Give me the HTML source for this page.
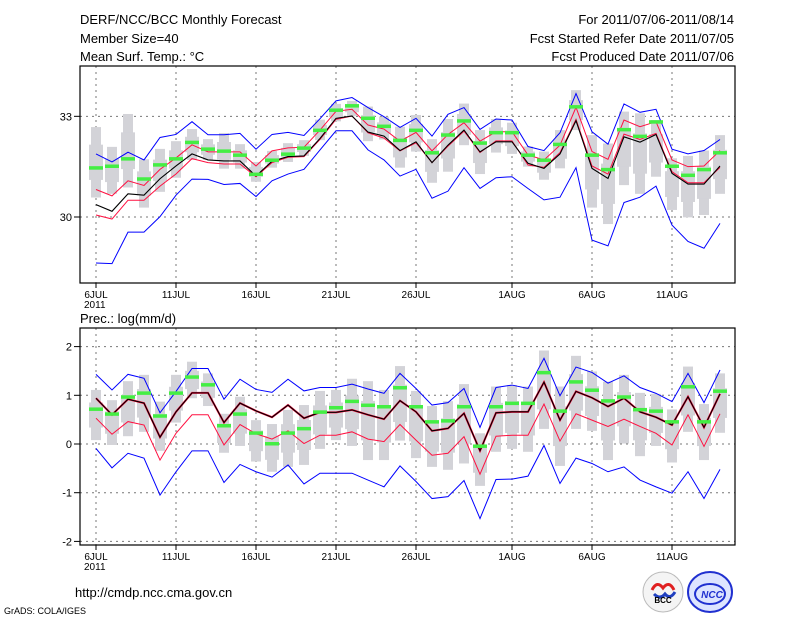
<!DOCTYPE html>
<html><head><meta charset="utf-8"><style>
body{margin:0;background:#fff;}
svg text{font-family:"Liberation Sans",sans-serif;}
</style></head><body>
<svg id="c" width="800" height="618" xmlns="http://www.w3.org/2000/svg">
<g font-size="13" fill="#000">
<text x="80" y="24">DERF/NCC/BCC Monthly Forecast</text>
<text x="80" y="43">Member Size=40</text>
<text x="80" y="61">Mean Surf. Temp.: °C</text>
<text x="734" y="24" text-anchor="end">For 2011/07/06-2011/08/14</text>
<text x="734" y="43" text-anchor="end">Fcst Started Refer Date 2011/07/05</text>
<text x="734" y="61" text-anchor="end">Fcst Produced Date 2011/07/06</text>
<text x="80" y="323">Prec.: log(mm/d)</text>
</g>
<g id="top"></g>
<g id="bot"></g>
<text x="75" y="597" font-size="13">http://cmdp.ncc.cma.gov.cn</text>
<text x="4" y="614" font-size="9">GrADS: COLA/IGES</text>
<g>
<circle cx="663" cy="592" r="20" fill="#f4f4f4" stroke="#bbb"/>
<path d="M652 590 q5 -10 11 -2 q6 -8 11 2" fill="none" stroke="#e02020" stroke-width="3"/>
<path d="M654 594 q6 6 11 0 q5 6 10 -2" fill="none" stroke="#2040c0" stroke-width="3"/>
<text x="663" y="603" font-size="8" font-weight="bold" text-anchor="middle">BCC</text>
</g>
<g>
<ellipse cx="710" cy="592" rx="22" ry="20" fill="#dde4ff" stroke="#2030d0" stroke-width="2"/>
<ellipse cx="710" cy="594" rx="15" ry="10" fill="none" stroke="#2030d0" stroke-width="2"/>
<text x="712" y="598" font-size="10" font-weight="bold" font-style="italic" fill="#2030d0" text-anchor="middle">NCC</text>
</g>
</svg>
<script>
const days = ["6JUL","","","","","11JUL","","","","","16JUL","","","","","21JUL","","","","","26JUL","","","","","","1AUG","","","","","6AUG","","","","","11AUG","","",""];
const tBlueHi=[31.88,31.64,31.93,31.70,32.37,32.46,32.84,32.45,32.45,32.49,32.02,32.46,32.52,32.43,32.93,33.46,33.56,33.26,32.99,32.67,32.94,32.41,33.06,33.26,32.61,32.92,32.89,32.10,31.98,32.51,33.68,32.54,32.17,33.37,33.12,33.21,32.02,31.88,31.98,32.31];
const tRedHi=[30.82,30.63,31.08,30.94,31.42,31.76,32.15,31.94,31.94,31.94,31.52,31.97,32.06,32.08,32.59,33.15,33.21,32.74,32.62,32.26,32.52,31.97,32.46,32.81,32.26,32.54,32.54,31.85,31.70,32.14,33.27,31.95,31.72,32.89,32.69,32.84,31.70,31.50,31.52,31.98];
const tMean=[30.37,30.17,30.69,30.65,31.14,31.52,31.88,31.70,31.67,31.67,31.22,31.66,31.80,31.82,32.34,32.94,33.01,32.53,32.41,31.98,32.24,31.62,32.14,32.59,31.94,32.24,32.24,31.60,31.45,31.88,32.87,31.45,31.15,32.39,32.23,32.46,31.30,30.98,30.98,31.52];
const tRedLo=[30.06,29.94,30.50,30.50,30.92,31.28,31.74,31.62,31.58,31.58,31.20,31.62,31.78,31.80,32.31,32.91,33.01,32.51,32.35,31.97,32.21,31.62,32.11,32.56,31.92,32.27,32.27,31.55,31.48,31.92,32.91,31.52,31.28,32.47,32.31,32.49,31.35,31.02,31.02,31.48];
const tBlueLo=[28.63,28.61,29.55,29.55,30.01,30.65,31.13,31.12,30.97,31.00,30.61,31.08,31.28,31.42,32.00,32.57,32.57,32.00,31.70,31.22,31.42,30.56,30.77,31.47,30.85,31.17,31.20,30.85,30.51,30.59,31.47,29.31,29.14,30.43,30.59,30.92,29.76,29.27,29.07,29.81];
const tObs=[31.47,31.52,31.74,31.14,31.56,31.74,32.23,32.03,31.97,31.85,31.28,31.70,31.88,32.06,32.59,33.19,33.32,32.95,32.71,32.29,32.59,31.92,32.45,32.87,32.21,32.52,32.52,31.85,31.70,32.17,33.29,31.85,31.42,32.61,32.41,32.84,31.52,31.25,31.42,31.92];
const tBarHi=[32.68,32.09,33.07,31.72,32.03,32.26,32.62,32.32,32.50,32.17,31.64,31.97,32.20,32.29,32.90,33.37,33.46,33.29,32.99,32.69,33.04,32.32,32.92,33.38,32.59,32.92,32.81,32.10,31.95,32.59,33.78,32.44,32.19,33.14,33.09,32.89,31.75,31.82,31.98,32.44];
const tBarLo=[30.58,30.69,30.88,30.28,30.75,31.17,31.70,31.70,31.44,31.44,31.05,31.47,31.64,31.82,32.29,32.85,33.01,32.26,32.31,31.47,31.95,31.02,31.35,32.14,31.28,31.92,31.88,31.50,31.11,31.45,32.59,30.28,29.79,30.95,30.69,31.20,30.21,29.99,30.06,30.69];
const pBlueHi=[1.43,1.11,1.43,1.35,0.64,1.08,1.55,1.55,0.92,1.33,1.12,1.06,1.33,1.09,1.16,1.16,1.23,1.13,1.04,1.45,1.14,0.80,0.85,1.14,0.34,1.16,1.21,1.14,1.76,0.99,1.58,1.47,1.25,1.40,1.16,1.04,0.87,1.45,0.85,1.52];
const pMean=[0.94,0.60,0.92,0.84,0.14,0.66,1.05,1.05,0.44,0.84,0.68,0.55,0.80,0.53,0.65,0.65,0.70,0.60,0.51,0.89,0.66,0.27,0.32,0.63,-0.14,0.64,0.66,0.66,1.27,0.49,1.08,0.95,0.77,0.94,0.66,0.55,0.39,0.97,0.34,1.03];
const pRedLo=[0.53,0.20,0.46,0.39,-0.33,0.22,0.60,0.60,-0.02,0.40,0.21,0.10,0.27,0.01,0.18,0.18,0.25,0.10,0.05,0.40,0.08,-0.23,-0.19,0.15,-0.62,0.16,0.18,0.18,0.82,0.06,0.62,0.49,0.36,0.51,0.36,0.22,-0.02,0.60,-0.05,0.62];
const pBlueLo=[-0.09,-0.49,-0.19,-0.29,-1.05,-0.57,-0.14,-0.14,-0.79,-0.42,-0.57,-0.68,-0.43,-0.82,-0.60,-0.60,-0.60,-0.74,-0.88,-0.45,-0.77,-1.12,-1.08,-0.75,-1.53,-0.73,-0.72,-0.66,-0.03,-0.81,-0.29,-0.40,-0.57,-0.47,-0.74,-0.88,-1.01,-0.57,-1.12,-0.52];
const pObs=[0.72,0.62,0.97,1.05,0.58,1.05,1.38,1.22,0.38,0.62,0.23,0.01,0.23,0.32,0.66,0.75,0.88,0.80,0.77,1.16,0.77,0.46,0.48,0.77,-0.04,0.77,0.84,0.84,1.47,0.68,1.28,1.11,0.89,0.97,0.71,0.68,0.46,1.18,0.46,1.09];
const pBarHi=[1.11,0.90,1.29,1.42,0.87,1.42,1.69,1.45,0.62,0.97,0.49,0.41,0.70,0.80,1.09,1.11,1.34,1.29,1.11,1.60,1.09,0.78,0.88,1.23,0.22,1.18,1.21,1.18,1.92,1.18,1.81,1.49,1.28,1.42,1.05,1.03,0.71,1.59,0.82,1.45];
const pBarLo=[0.08,-0.02,0.16,0.25,-0.14,0.44,0.94,0.78,-0.18,-0.04,-0.36,-0.57,-0.47,-0.43,-0.10,0.08,-0.04,-0.33,-0.33,0.07,-0.29,-0.47,-0.53,-0.40,-0.86,-0.16,-0.10,-0.16,0.31,-0.45,0.31,0.27,-0.33,0.01,-0.25,-0.04,-0.38,0.25,-0.33,0.23];
const tTicks=[30,33];
const pTicks=[-2,-1,0,1,2];

const NS="http://www.w3.org/2000/svg";
function mk(p,tag,a){const e=document.createElementNS(NS,tag);for(const k in a)e.setAttribute(k,a[k]);p.appendChild(e);return e;}
const xs=i=>96+16*i;
function panel(g,top,bot,vTop,vBot,ticks,sets){
  const ys=v=>top+(vTop-v)/(vTop-vBot)*(bot-top);
  ticks.forEach(t=>{const l=mk(g,'line',{x1:80,x2:735,y1:ys(t),y2:ys(t),stroke:'#777','stroke-dasharray':'2,4'});
    
    const tk=mk(g,'line',{x1:74,x2:80,y1:ys(t),y2:ys(t),stroke:'#000'});
    
    const tx=mk(g,'text',{x:72,y:ys(t)+4,'font-size':11,'text-anchor':'end'});tx.textContent=t;
    });
  days.forEach((d,i)=>{if(!d)return;
    const l=mk(g,'line',{x1:xs(i),x2:xs(i),y1:top,y2:bot,stroke:'#777','stroke-dasharray':'2,4'});
    
    const tk=mk(g,'line',{x1:xs(i),x2:xs(i),y1:bot,y2:bot+5,stroke:'#000'});
    
    const tx=mk(g,'text',{x:xs(i),y:bot+15,'font-size':10,'text-anchor':'middle'});tx.textContent=d;
    });
  const yr=mk(g,'text',{x:84,y:bot+25,'font-size':10});yr.textContent='2011';
  
  sets.hi.forEach((h,i)=>{const lo=sets.lo[i];
    const r=mk(g,'rect',{x:xs(i)-5,y:ys(h),width:10,height:ys(lo)-ys(h),fill:'#d3d3d8'});
    
    const q1=lo+(h-lo)*0.25,q3=lo+(h-lo)*0.75;
    const b=mk(g,'rect',{x:xs(i)-7,y:ys(q3),width:14,height:ys(q1)-ys(q3),fill:'#d3d3d8'});
    });
  const line=(arr,col,name,w)=>{const p=mk(g,'polyline',{points:arr.map((v,i)=>xs(i)+','+ys(v)).join(' '),fill:'none',stroke:col,'stroke-width':w||1});
    };
  line(sets.blueHi,'#0000ff','upper-bound-line');
  line(sets.blueLo,'#0000ff','lower-bound-line');
  if(sets.redHi)line(sets.redHi,'#ff1040','red-upper-line');
  line(sets.redLo,'#ff1040','red-lower-line',1);
  if(sets.redUnder)line(sets.mean,'#ff1040','red-mean-shadow',2);
  line(sets.mean,'#000','ensemble-mean-line',1.1);
  sets.obs.forEach((v,i)=>{const r=mk(g,'rect',{x:xs(i)-7,y:ys(v)-1.5,width:14,height:3.5,fill:'#44ee44'});
    });
  const f=mk(g,'rect',{x:80,y:top,width:655,height:bot-top,fill:'none',stroke:'#000','stroke-width':1.2});
  
}
panel(document.getElementById('top'),66,283,30+151/33.56,30-66/33.56,tTicks,
 {hi:tBarHi,lo:tBarLo,blueHi:tBlueHi,blueLo:tBlueLo,redHi:tRedHi,redLo:tRedLo,mean:tMean,obs:tObs});
panel(document.getElementById('bot'),328,545,(444-328)/48.7,(444-545)/48.7,pTicks,
 {hi:pBarHi,lo:pBarLo,blueHi:pBlueHi,blueLo:pBlueLo,redLo:pRedLo,mean:pMean,obs:pObs,redUnder:true});
</script>
</body></html>
